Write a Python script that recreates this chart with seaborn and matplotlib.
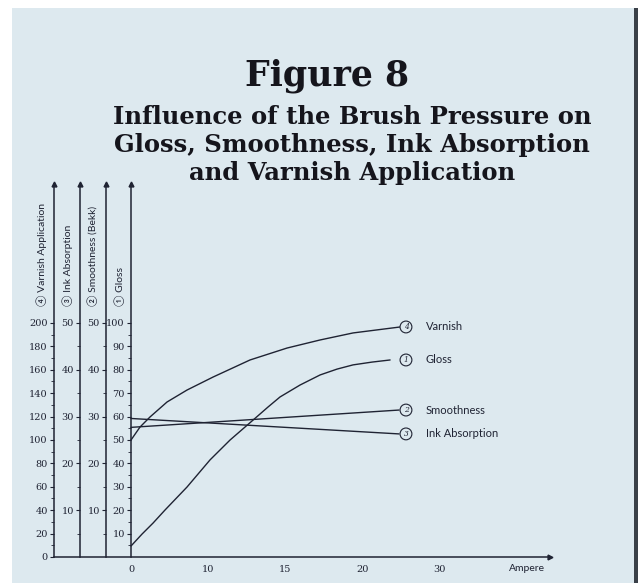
import matplotlib
matplotlib.use("Agg")
import matplotlib.pyplot as plt
from matplotlib.patches import Rectangle
import seaborn as sns

sns.set_style("white")

# Ampere axis: evenly spaced ticks with these labels
ampere_pos = [0, 1, 2, 3, 4]
ampere_labels = ["0", "10", "15", "20", "30"]

# curves (x in tick-position units, y in each curve's own scale)
gloss_x = [0, 0.143, 0.286, 0.442, 0.727, 1.026, 1.286, 1.584, 1.779, 1.935,
           2.195, 2.455, 2.675, 2.883, 3.130, 3.364]
gloss_y = [4.7, 9.8, 14.5, 20.1, 29.9, 41.5, 50.0, 58.5, 64.1, 68.4,
           73.5, 77.8, 80.3, 82.1, 83.3, 84.2]

varnish_x = [0, 0.117, 0.247, 0.468, 0.727, 1.065, 1.545, 2.026, 2.455, 2.883, 3.494]
varnish_y = [100.0, 111.1, 119.7, 132.5, 142.7, 153.8, 168.4, 178.6, 185.5, 191.5, 196.6]

smooth_x = [0, 3.48]
smooth_y = [27.7, 31.4]

ink_x = [0, 3.48]
ink_y = [29.6, 26.3]

ink = "#1f2333"
bg = "#dde9ef"

fig = plt.figure(figsize=(6.38, 5.83), dpi=100)
fig.patches.append(Rectangle((12 / 638, 0), 622 / 638, 575 / 583, transform=fig.transFigure,
                             facecolor=bg, edgecolor="none", zorder=-10))
fig.patches.append(Rectangle((634 / 638, 0), 4 / 638, 575 / 583, transform=fig.transFigure,
                             facecolor="#3a4048", edgecolor="none", zorder=-9))

# axes box: left = varnish axis, right = arrow tip of x axis
ax = fig.add_axes([54 / 638, 26 / 583, 496 / 638, 373 / 583])
ax.patch.set_alpha(0)
xmin, xmax = -1.0, 5.44
gloss_top = 159.4
ax.set_xlim(xmin, xmax)
ax.set_ylim(0, gloss_top)

spine_pos = {"varnish": -1.0, "ink": -0.66, "smooth": -0.325, "gloss": 0}

serif = "DejaVu Serif"
sans = ["Lato", "DejaVu Sans"]
circ = ["Lato", "DejaVu Sans", "Noto Sans CJK JP"]
tick_font = dict(family=serif, size=7, color=ink)


def style_vertical(a, pos, major, minor, labels):
    for s in ["top", "right", "bottom"]:
        a.spines[s].set_visible(False)
    a.spines["left"].set_visible(True)
    a.spines["left"].set_position(("data", pos))
    a.spines["left"].set_color(ink)
    a.spines["left"].set_linewidth(1.1)
    a.yaxis.set_ticks_position("left")
    a.set_yticks(major)
    a.set_yticklabels(labels, fontdict=tick_font)
    a.set_yticks(minor, minor=True)
    a.tick_params(axis="y", which="major", direction="out", length=3, width=0.8,
                  color=ink, pad=1.5, left=True, right=False, labelleft=True, labelright=False)
    a.tick_params(axis="y", which="minor", direction="out", length=2, width=0.6,
                  color=ink, left=True, right=False)
    a.set_ylabel("")
    a.plot([pos], [1], marker="^", ms=3.5, color=ink, transform=a.get_xaxis_transform(),
           clip_on=False)


# gloss axis (main)
style_vertical(ax, spine_pos["gloss"], list(range(10, 101, 10)), list(range(5, 100, 10)),
               [str(v) for v in range(10, 101, 10)])
ax.spines["bottom"].set_visible(True)
ax.spines["bottom"].set_color(ink)
ax.spines["bottom"].set_linewidth(1.1)
ax.set_xticks(ampere_pos)
ax.set_xticklabels(ampere_labels, fontdict=tick_font)
ax.tick_params(axis="x", direction="out", length=2, width=0.6, color=ink, pad=4)
ax.plot([1], [0], marker=">", ms=3.5, color=ink, transform=ax.get_yaxis_transform(),
        clip_on=False)
ax.text(5.14, -5, "Ampere", family=sans, fontsize=7.5, color=ink, ha="center", va="center")

# varnish axis
ax_v = ax.twinx()
ax_v.set_ylim(0, gloss_top * 2)
style_vertical(ax_v, spine_pos["varnish"], list(range(0, 201, 20)), list(range(10, 200, 20)),
               [str(v) for v in range(0, 201, 20)])

# ink absorption axis
ax_i = ax.twinx()
ax_i.set_ylim(0, gloss_top / 2)
style_vertical(ax_i, spine_pos["ink"], list(range(10, 51, 10)), list(range(5, 50, 10)),
               [str(v) for v in range(10, 51, 10)])

# smoothness axis
ax_s = ax.twinx()
ax_s.set_ylim(0, gloss_top / 2)
style_vertical(ax_s, spine_pos["smooth"], list(range(10, 51, 10)), list(range(5, 50, 10)),
               [str(v) for v in range(10, 51, 10)])

for a in [ax_v, ax_i, ax_s]:
    a.set_xlim(xmin, xmax)

# curves
lw = 1.0
sns.lineplot(x=gloss_x, y=gloss_y, ax=ax, color=ink, linewidth=lw)
sns.lineplot(x=varnish_x, y=varnish_y, ax=ax_v, color=ink, linewidth=lw)
sns.lineplot(x=smooth_x, y=smooth_y, ax=ax_s, color=ink, linewidth=lw)
sns.lineplot(x=ink_x, y=ink_y, ax=ax_i, color=ink, linewidth=lw)

# curve labels
mark_x, text_x = 3.57, 3.83
end_labels = [
    (ax_v, varnish_y[-1], "4", "Varnish"),
    (ax, gloss_y[-1], "1", "Gloss"),
    (ax_s, smooth_y[-1], "2", "Smoothness"),
    (ax_i, ink_y[-1], "3", "Ink Absorption"),
]
for a, yv, num, name in end_labels:
    a.text(mark_x, yv, num, fontsize=5.5, style="italic", color=ink, ha="center", va="center",
           family=serif,
           bbox=dict(boxstyle="circle,pad=0.25", fc=bg, ec=ink, lw=0.8))
    a.text(text_x, yv, name, family=sans, fontsize=8, color=ink, ha="left", va="center")

# vertical axis titles
ylab_y = (557 - 306) / 373
titles = [
    (-1.156, "\u2463 Varnish Application"),
    (-0.818, "\u2462 Ink Absorption"),
    (-0.494, "\u2461 Smoothness (Bekk)"),
    (-0.143, "\u2460 Gloss"),
]
for xp, t in titles:
    ax.text(xp, ylab_y, t, rotation=90, family=circ, fontsize=7.5, color=ink,
            ha="center", va="bottom", transform=ax.get_xaxis_transform())

# headings
fig.text(327 / 638, 1 - 76 / 583, "Figure 8", family=serif, weight="bold", fontsize=25,
         color="#15151c", ha="center", va="center")
fig.text(352 / 638, 1 - 145 / 583,
         "Influence of the Brush Pressure on\nGloss, Smoothness, Ink Absorption\nand Varnish Application",
         family=serif, weight="bold", fontsize=17.5, color="#15151c", ha="center", va="center",
         linespacing=1.2)

fig.savefig("out.png", dpi=100)
